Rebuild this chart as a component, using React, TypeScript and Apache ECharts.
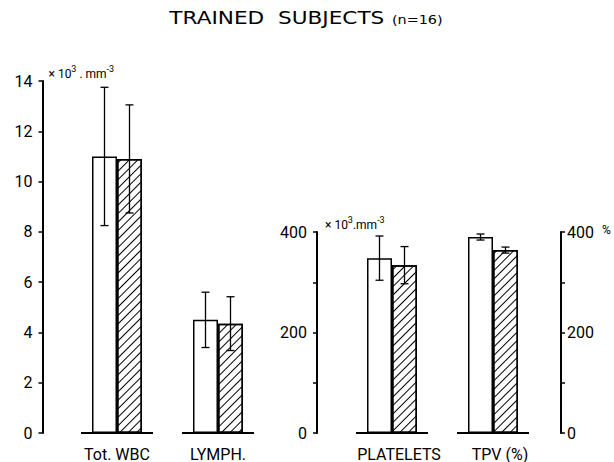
import React, { useEffect, useRef } from 'react';
import * as echarts from 'echarts';

// ---- data ----
const leftCategories = ['Tot. WBC', 'LYMPH.'];
const rightCategories = ['PLATELETS', 'TPV (%)'];
const leftControl = [11.0, 4.5];
const leftControlSd = [2.75, 1.1];
const leftTrained = [10.9, 4.35];
const leftTrainedSd = [2.15, 1.07];
const rightControl = [348, 390];
const rightControlSd = [44, 6];
const rightTrained = [334, 364];
const rightTrainedSd = [37, 6];
const leftAxisTicks = [0, 2, 4, 6, 8, 10, 12, 14];
const rightAxisTicks = [0, 200, 400];

const BAR_W = 25;
const CAP = 4;
const BASE_HALF = 36;
const FONT = 'Roboto, "DejaVu Sans", sans-serif';
const TITLE_FONT = '"DejaVu Sans", sans-serif';

const errorRender = (params: any, api: any) => {
  const x = api.value(0);
  const m = api.value(1);
  const sd = api.value(2);
  const side = api.value(3);
  const top = api.coord([x, m + sd]);
  const bot = api.coord([x, m - sd]);
  const cx = top[0] + (side * BAR_W) / 2;
  const style = { stroke: '#000', lineWidth: 1.3 };
  return {
    type: 'group',
    children: [
      { type: 'line', shape: { x1: cx, y1: top[1], x2: cx, y2: bot[1] }, style },
      { type: 'line', shape: { x1: cx - CAP, y1: top[1], x2: cx + CAP, y2: top[1] }, style },
      { type: 'line', shape: { x1: cx - CAP, y1: bot[1], x2: cx + CAP, y2: bot[1] }, style },
    ],
  };
};

const baseRender = (params: any, api: any) => {
  const p = api.coord([api.value(0), 0]);
  return {
    type: 'line',
    shape: { x1: p[0] - BASE_HALF, y1: p[1], x2: p[0] + BASE_HALF, y2: p[1] },
    style: { stroke: '#000', lineWidth: 2.2 },
  };
};

const unitRich = {
  a: { fontSize: 12, fontFamily: FONT, color: '#000', verticalAlign: 'bottom' as const },
  s: { fontSize: 9, fontFamily: FONT, color: '#000', padding: [0, 0, 7, 0], verticalAlign: 'bottom' as const },
};

const whiteStyle = { color: '#fff', borderColor: '#000', borderWidth: 1.5 };
const hatchStyle = {
  color: '#fff',
  borderColor: '#000',
  borderWidth: 1.5,
  decal: {
    symbol: 'rect',
    symbolSize: 1,
    color: '#000',
    dashArrayX: [1, 0],
    dashArrayY: [1, 5],
    rotation: -Math.PI / 4,
  },
};

const axisCommon = {
  type: 'value' as const,
  axisLine: { show: true, lineStyle: { color: '#000', width: 2 } },
  axisTick: { show: true, length: 4, lineStyle: { color: '#000', width: 1.5 } },
  axisLabel: { color: '#000', fontSize: 16, fontFamily: FONT, margin: 10 },
  splitLine: { show: false },
};

const xCommon = {
  type: 'category' as const,
  axisLine: { show: false },
  axisTick: { show: false },
  axisLabel: { color: '#000', fontSize: 16, lineHeight: 14, fontFamily: FONT, margin: 14, interval: 0 },
};

export default function App() {
  const ref = useRef<HTMLDivElement>(null);
  useEffect(() => {
    if (!ref.current) return;
    const chart = echarts.init(ref.current, undefined, { renderer: 'svg' });
    const option: any = {
      animation: false,
      backgroundColor: '#fff',
      graphic: [
        {
          type: 'text',
          x: 306,
          y: 18,
          scaleX: 1.2,
          style: {
            text: '{a|TRAINED  SUBJECTS} {b|(n=16)}',
            align: 'center',
            verticalAlign: 'middle',
            rich: {
              a: { fontSize: 18, fontFamily: TITLE_FONT, fill: '#000' },
              b: { fontSize: 12, fontFamily: TITLE_FONT, fill: '#000', padding: [3, 0, 0, 3] },
            },
          },
        },
      ],
      grid: [
        { left: 66.5, width: 202, top: 81, bottom: 29, containLabel: false, outerBoundsMode: 'none' },
        { left: 341.5, width: 202, top: 232, bottom: 29, containLabel: false, outerBoundsMode: 'none' },
      ],
      xAxis: [
        { ...xCommon, gridIndex: 0, data: leftCategories },
        {
          ...xCommon,
          gridIndex: 1,
          data: rightCategories,
          axisLabel: { ...xCommon.axisLabel, padding: [0, 0, 0, 14] },
        },
      ],
      yAxis: [
        {
          ...axisCommon,
          gridIndex: 0,
          position: 'left',
          offset: 24,
          min: leftAxisTicks[0],
          max: leftAxisTicks[leftAxisTicks.length - 1],
          interval: leftAxisTicks[1] - leftAxisTicks[0],
          name: '{a|× 10}{s|3}{a| . mm}{s|-3}',
          nameLocation: 'end',
          nameGap: 1,
          nameTextStyle: { align: 'left', padding: [0, 0, 0, 6], rich: unitRich },
        },
        {
          ...axisCommon,
          gridIndex: 1,
          position: 'left',
          offset: 24.5,
          min: rightAxisTicks[0],
          max: rightAxisTicks[rightAxisTicks.length - 1],
          interval: rightAxisTicks[1] - rightAxisTicks[0],
          minorTick: { show: true, splitNumber: 2, length: 4, lineStyle: { color: '#000', width: 1.5 } },
          name: '{a|× 10}{s|3}{a|.mm}{s|-3}',
          nameLocation: 'end',
          nameGap: 1,
          nameTextStyle: { align: 'left', padding: [0, 0, 0, 8], rich: unitRich },
        },
        {
          ...axisCommon,
          gridIndex: 1,
          position: 'right',
          offset: 17.5,
          min: rightAxisTicks[0],
          max: rightAxisTicks[rightAxisTicks.length - 1],
          interval: rightAxisTicks[1] - rightAxisTicks[0],
          minorTick: { show: true, splitNumber: 2, length: 4, lineStyle: { color: '#000', width: 1.5 } },
          axisLabel: {
            ...axisCommon.axisLabel,
            margin: 6,
            formatter: (v: number) => (v === rightAxisTicks[rightAxisTicks.length - 1] ? `${v} {p|%}` : `${v}`),
            rich: { p: { fontSize: 12, fontFamily: FONT, color: '#000', padding: [0, 0, 4, 4] } },
          },
        },
      ],
      series: [
        {
          type: 'bar', xAxisIndex: 0, yAxisIndex: 0, data: leftControl,
          barWidth: BAR_W, barGap: '0%', itemStyle: whiteStyle, z: 2,
        },
        {
          type: 'bar', xAxisIndex: 0, yAxisIndex: 0, data: leftTrained,
          barWidth: BAR_W, barGap: '0%', itemStyle: hatchStyle, z: 2,
        },
        {
          type: 'bar', xAxisIndex: 1, yAxisIndex: 1, data: rightControl,
          barWidth: BAR_W, barGap: '0%', itemStyle: whiteStyle, z: 2,
        },
        {
          type: 'bar', xAxisIndex: 1, yAxisIndex: 1, data: rightTrained,
          barWidth: BAR_W, barGap: '0%', itemStyle: hatchStyle, z: 2,
        },
        {
          type: 'custom', xAxisIndex: 0, yAxisIndex: 0, renderItem: errorRender, z: 4,
          encode: { x: 0, y: 1 },
          data: [
            ...leftControl.map((v, i) => [i, v, leftControlSd[i], -1]),
            ...leftTrained.map((v, i) => [i, v, leftTrainedSd[i], 1]),
          ],
        },
        {
          type: 'custom', xAxisIndex: 1, yAxisIndex: 1, renderItem: errorRender, z: 4,
          encode: { x: 0, y: 1 },
          data: [
            ...rightControl.map((v, i) => [i, v, rightControlSd[i], -1]),
            ...rightTrained.map((v, i) => [i, v, rightTrainedSd[i], 1]),
          ],
        },
        {
          type: 'custom', xAxisIndex: 0, yAxisIndex: 0, renderItem: baseRender, z: 5,
          encode: { x: 0, y: 1 },
          data: leftCategories.map((_, i) => [i, 0]),
        },
        {
          type: 'custom', xAxisIndex: 1, yAxisIndex: 1, renderItem: baseRender, z: 5,
          encode: { x: 0, y: 1 },
          data: rightCategories.map((_, i) => [i, 0]),
        },
      ],
    };
    chart.setOption(option);
    return () => chart.dispose();
  }, []);
  return (
    <div
      ref={ref}
      style={{ position: 'fixed', left: 0, top: 0, width: 614, height: 462, background: '#fff' }}
    />
  );
}
